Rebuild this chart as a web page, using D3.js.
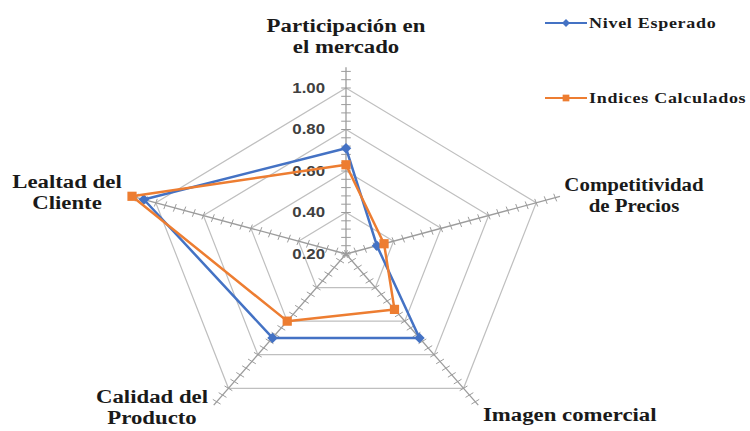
<!DOCTYPE html>
<html>
<head>
<meta charset="utf-8">
<script src="https://cdn.jsdelivr.net/npm/d3@7"></script>
<style>
  body { margin: 0; background: #fff; }
  svg { display: block; }
</style>
</head>
<body>
<div id="chart"></div>
<script>
// categorias del radar (una por eje)
const categories = [
  ["Participación en", "el mercado"],
  ["Competitividad", "de Precios"],
  ["Imagen comercial"],
  ["Calidad del", "Producto"],
  ["Lealtad del", "Cliente"]
];
const nivelEsperado = [0.71, 0.33, 0.70, 0.70, 1.05];
const indicesCalculados = [0.63, 0.36, 0.53, 0.60, 1.10];
const gridValues = [0.40, 0.60, 0.80, 1.00];
const tickLabels = [0.20, 0.40, 0.60, 0.80, 1.00];

const width = 750, height = 431;
const cx = 346, cy = 254;
const Rx = 200, Ry = 166; // la imagen original esta estirada en horizontal
const stretch = 1.2;

const r = d3.scaleLinear().domain([0.2, 1.0]).range([0, 1]);
const angle = d3.scaleLinear().domain([0, categories.length]).range([-Math.PI / 2, 1.5 * Math.PI]);

function pt(i, v) {
  const a = angle(i);
  return [cx + Rx * r(v) * Math.cos(a), cy + Ry * r(v) * Math.sin(a)];
}

const svg = d3.select("#chart").append("svg")
  .attr("width", width)
  .attr("height", height);

// rejilla pentagonal
gridValues.forEach(v => {
  svg.append("polygon")
    .attr("points", categories.map((c, i) => pt(i, v).join(",")).join(" "))
    .attr("fill", "none")
    .attr("stroke", "#bfbfbf")
    .attr("stroke-width", 1.2);
});

// ejes con marcas menores
const tickVals = d3.range(0, 23).map(k => 0.2 + k * 0.04);
categories.forEach((c, i) => {
  const p0 = pt(i, 0.2), p1 = pt(i, 1.1);
  svg.append("line")
    .attr("x1", p0[0]).attr("y1", p0[1])
    .attr("x2", p1[0]).attr("y2", p1[1])
    .attr("stroke", "#9c9c9c")
    .attr("stroke-width", 1.3);
  const a = angle(i);
  const nx = -Math.sin(a) * 4 * stretch, ny = Math.cos(a) * 4;
  tickVals.forEach(v => {
    const p = pt(i, v);
    svg.append("line")
      .attr("x1", p[0] - nx).attr("y1", p[1] - ny)
      .attr("x2", p[0] + nx).attr("y2", p[1] + ny)
      .attr("stroke", "#9c9c9c")
      .attr("stroke-width", 1);
  });
});

// etiquetas del eje radial
tickLabels.forEach(v => {
  const p = pt(0, v);
  svg.append("text")
    .attr("transform", `translate(${p[0] - 21},${p[1]}) scale(${stretch},1)`)
    .attr("text-anchor", "end")
    .attr("dominant-baseline", "central")
    .attr("font-family", "Liberation Sans, Arial, sans-serif")
    .attr("font-weight", "bold")
    .attr("font-size", "14px")
    .attr("fill", "#404040")
    .text(v.toFixed(2));
});

// series
const line = d3.line().curve(d3.curveLinearClosed);

function drawSeries(values, color, marker) {
  const pts = values.map((v, i) => pt(i, v));
  svg.append("path")
    .attr("d", line(pts))
    .attr("fill", "none")
    .attr("stroke", color)
    .attr("stroke-width", 2.5)
    .attr("stroke-linejoin", "round");
  pts.forEach(p => {
    svg.append("path")
      .attr("d", marker)
      .attr("transform", `translate(${p[0]},${p[1]})`)
      .attr("fill", color);
  });
}

const diamond = d3.symbol().type(d3.symbolDiamond2).size(70)();
const square = d3.symbol().type(d3.symbolSquare).size(85)();

drawSeries(nivelEsperado, "#4472c4", diamond);
drawSeries(indicesCalculados, "#ed7d31", square);

// etiquetas de categoria
const labelPos = [
  {x: 346, y: 32, anchor: "middle", scale: stretch},
  {x: 634, y: 191, anchor: "middle", scale: 1.1},
  {x: 483, y: 421, anchor: "start", scale: stretch},
  {x: 152, y: 403, anchor: "middle", scale: stretch},
  {x: 67, y: 188, anchor: "middle", scale: stretch}
];
categories.forEach((lines, i) => {
  const lp = labelPos[i];
  const t = svg.append("text")
    .attr("transform", `translate(${lp.x},${lp.y}) scale(${lp.scale},1)`)
    .attr("text-anchor", lp.anchor)
    .attr("font-family", "Liberation Serif, Times New Roman, serif")
    .attr("font-weight", "bold")
    .attr("font-size", "19px")
    .attr("fill", "#1a1a1a");
  lines.forEach((s, k) => {
    t.append("tspan").attr("x", 0).attr("dy", k === 0 ? 0 : 21).text(s);
  });
});

// leyenda
const legend = [
  {name: "Nivel Esperado", color: "#4472c4", marker: d3.symbol().type(d3.symbolDiamond2).size(40)(), y: 23},
  {name: "Indices Calculados", color: "#ed7d31", marker: d3.symbol().type(d3.symbolSquare).size(45)(), y: 98}
];
legend.forEach(d => {
  svg.append("line")
    .attr("x1", 545).attr("x2", 587)
    .attr("y1", d.y).attr("y2", d.y)
    .attr("stroke", d.color)
    .attr("stroke-width", 2.2);
  svg.append("path")
    .attr("d", d.marker)
    .attr("transform", `translate(566,${d.y})`)
    .attr("fill", d.color);
  svg.append("text")
    .attr("transform", `translate(589,${d.y + 5}) scale(${stretch},1)`)
    .attr("font-family", "Liberation Serif, Times New Roman, serif")
    .attr("font-weight", "bold")
    .attr("font-size", "15px")
    .attr("letter-spacing", "0.6px")
    .attr("fill", "#1a1a1a")
    .text(d.name);
});
</script>
</body>
</html>
